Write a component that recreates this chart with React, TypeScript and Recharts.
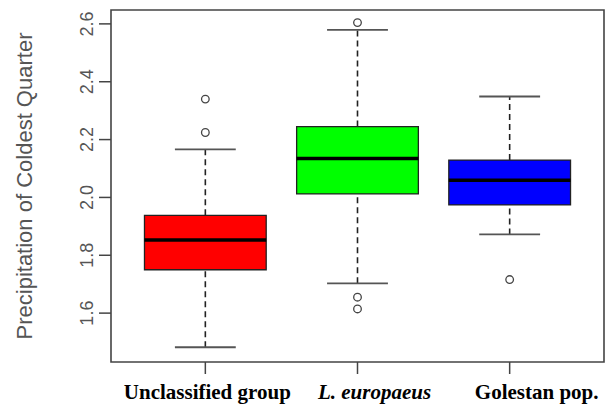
import { ComposedChart, XAxis, YAxis, ReferenceArea, ReferenceLine, Scatter } from 'recharts';

// Boxplot of precipitation of the coldest quarter, one box per group
const GROUPS = ['Unclassified group', 'L. europaeus', 'Golestan pop.'];
const POSITIONS = [1, 2, 3];
const LOWER_WHISKER = [1.482, 1.703, 1.872];
const Q1 = [1.75, 2.012, 1.974];
const MEDIAN = [1.853, 2.135, 2.059];
const Q3 = [1.938, 2.245, 2.129];
const UPPER_WHISKER = [2.166, 2.579, 2.349];
const OUTLIER_GROUP = [1, 1, 2, 2, 2, 3];
const OUTLIER_VALUE = [2.34, 2.2245, 2.6045, 1.655, 1.6145, 1.716];
const Y_TICKS = [1.6, 1.8, 2.0, 2.2, 2.4, 2.6];
const FILLS = ['#FF0000', '#00FF00', '#0000FF'];

const X_DOMAIN: [number, number] = [0.38, 3.62];
const Y_DOMAIN: [number, number] = [1.431, 2.648];
const BOX_HALF = 0.4;
const CAP_HALF = 0.2;
// the labels in the source figure sit a little right of their ticks
const LABEL_SHIFT = [2, 17, 27];

const outliers = OUTLIER_GROUP.map((g, i) => ({ x: g, y: OUTLIER_VALUE[i] }));

function YTick({ x, y, payload }: any) {
  return (
    <text
      x={x}
      y={y}
      transform={`rotate(-90 ${x} ${y})`}
      textAnchor="middle"
      fontFamily="'Liberation Sans', Arial, sans-serif"
      fontSize={18}
      fill="#555"
    >
      {Number(payload.value).toFixed(1)}
    </text>
  );
}

function XTick({ x, y, payload }: any) {
  const i = POSITIONS.indexOf(payload.value);
  return (
    <text
      x={x + (LABEL_SHIFT[i] ?? 0)}
      y={y + 23}
      textAnchor="middle"
      fontFamily="'Liberation Serif', 'Times New Roman', serif"
      fontWeight="bold"
      fontStyle={i === 1 ? 'italic' : 'normal'}
      fontSize={21}
      fill="#000"
    >
      {GROUPS[i]}
    </text>
  );
}

function YTitle({ viewBox }: any) {
  const cx = 32;
  const cy = viewBox.y + viewBox.height / 2;
  return (
    <text
      x={cx}
      y={cy}
      transform={`rotate(-90 ${cx} ${cy})`}
      textAnchor="middle"
      fontFamily="'Liberation Sans', Arial, sans-serif"
      fontSize={22}
      fill="#555"
    >
      Precipitation of Coldest Quarter
    </text>
  );
}

export default function App() {
  return (
    <div style={{ position: 'absolute', left: 0, top: 0, width: 613, height: 412, background: '#fff' }}>
      <ComposedChart width={613} height={412} margin={{ top: 10, right: 9, bottom: 0, left: 0 }}>
        <XAxis
          dataKey="x"
          type="number"
          domain={X_DOMAIN}
          allowDataOverflow
          ticks={POSITIONS}
          tick={<XTick />}
          tickSize={12}
          tickLine={{ stroke: '#444', strokeWidth: 1.5 }}
          axisLine={false}
          height={50}
        />
        <YAxis
          type="number"
          domain={Y_DOMAIN}
          allowDataOverflow
          ticks={Y_TICKS}
          tick={<YTick />}
          tickSize={12}
          tickMargin={6}
          tickLine={{ stroke: '#444', strokeWidth: 1.5 }}
          axisLine={false}
          width={111}
          label={<YTitle />}
        />

        {POSITIONS.map((p, i) => (
          <ReferenceLine
            key={`wl${i}`}
            segment={[{ x: p, y: LOWER_WHISKER[i] }, { x: p, y: Q1[i] }]}
            stroke="#222"
            strokeWidth={1.6}
            strokeDasharray="6 4"
          />
        ))}
        {POSITIONS.map((p, i) => (
          <ReferenceLine
            key={`wu${i}`}
            segment={[{ x: p, y: Q3[i] }, { x: p, y: UPPER_WHISKER[i] }]}
            stroke="#222"
            strokeWidth={1.6}
            strokeDasharray="6 4"
          />
        ))}
        {POSITIONS.map((p, i) => (
          <ReferenceLine
            key={`cl${i}`}
            segment={[{ x: p - CAP_HALF, y: LOWER_WHISKER[i] }, { x: p + CAP_HALF, y: LOWER_WHISKER[i] }]}
            stroke="#555"
            strokeWidth={1.8}
          />
        ))}
        {POSITIONS.map((p, i) => (
          <ReferenceLine
            key={`cu${i}`}
            segment={[{ x: p - CAP_HALF, y: UPPER_WHISKER[i] }, { x: p + CAP_HALF, y: UPPER_WHISKER[i] }]}
            stroke="#555"
            strokeWidth={1.8}
          />
        ))}
        {POSITIONS.map((p, i) => (
          <ReferenceArea
            key={`box${i}`}
            x1={p - BOX_HALF}
            x2={p + BOX_HALF}
            y1={Q1[i]}
            y2={Q3[i]}
            fill={FILLS[i]}
            fillOpacity={1}
            stroke="#222"
            strokeWidth={1.3}
          />
        ))}
        {POSITIONS.map((p, i) => (
          <ReferenceLine
            key={`med${i}`}
            segment={[{ x: p - BOX_HALF, y: MEDIAN[i] }, { x: p + BOX_HALF, y: MEDIAN[i] }]}
            stroke="#000"
            strokeWidth={3.5}
          />
        ))}
        <Scatter
          data={outliers}
          dataKey="y"
          isAnimationActive={false}
          shape={(props: any) => (
            <circle cx={props.cx} cy={props.cy} r={3.8} fill="none" stroke="#444" strokeWidth={1.3} />
          )}
        />
        <ReferenceArea
          x1={X_DOMAIN[0]}
          x2={X_DOMAIN[1]}
          y1={Y_DOMAIN[0]}
          y2={Y_DOMAIN[1]}
          fill="none"
          stroke="#444"
          strokeWidth={1.6}
        />
      </ComposedChart>
    </div>
  );
}
